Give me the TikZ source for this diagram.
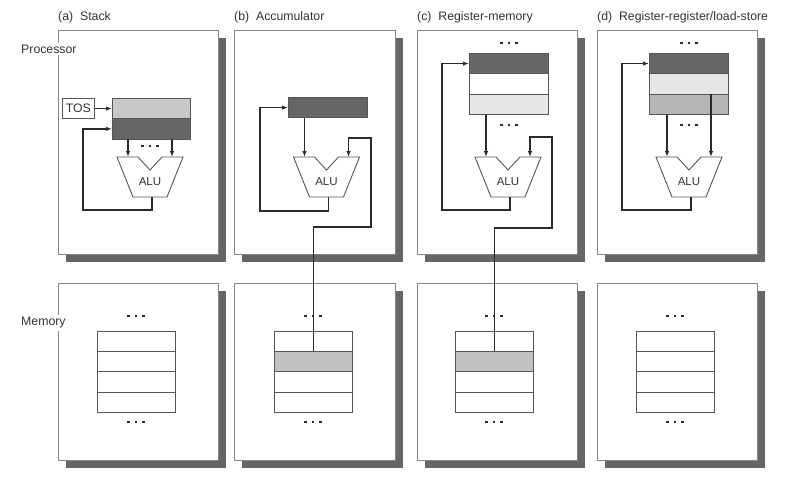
\documentclass[tikz,border=0pt]{standalone}
\usepackage{fontspec}
\setmainfont{Liberation Sans}
\usetikzlibrary{arrows.meta}
\definecolor{boxline}{HTML}{858585}
\definecolor{shadowc}{HTML}{666666}
\definecolor{regline}{HTML}{555555}
\definecolor{wirec}{HTML}{2A2A2A}
\definecolor{textc}{HTML}{333333}
\definecolor{darkreg}{HTML}{666666}
\definecolor{lightreg}{HTML}{C8C8C8}
\definecolor{paler}{HTML}{E6E6E6}
\definecolor{midreg}{HTML}{B6B6B6}
\definecolor{memshade}{HTML}{C0C0C0}
\newcommand\threedots{\rule{2.6pt}{2.6pt}\hspace{5pt}\rule{2.6pt}{2.6pt}\hspace{5pt}\rule{2.6pt}{2.6pt}}
\newcommand\aluunit[2]{%
  \draw[alushape] (#2-33,157) -- (#2-12,157) -- (#2,170) -- (#2+12,157) -- (#2+33,157) -- (#2+17,197) -- (#2-17,197) -- cycle;
  \node[alutext] (#1) at (#2,182) {ALU};
  \coordinate (#1-in1) at (#2-22,157);
  \coordinate (#1-in2) at (#2+22,157);
  \coordinate (#1-out) at (#2+2,197);
}
\begin{document}
\begin{tikzpicture}[x=1pt,y=-1pt,
  panel/.style={draw=boxline, fill=white, line width=0.8pt},
  shadow/.style={fill=shadowc, draw=none},
  regbox/.style={draw=regline, line width=0.8pt, minimum width=78pt, minimum height=20.3pt, inner sep=0pt, anchor=north west},
  memcell/.style={draw=regline, line width=0.8pt, minimum width=78pt, minimum height=20.2pt, inner sep=0pt, anchor=north west, fill=white},
  wire/.style={line width=1.8pt, draw=wirec},
  arr/.style={wire, -{Latex[length=6pt,width=4.5pt]}},
  alushape/.style={draw=regline, line width=0.9pt, fill=white, line join=miter},
  alutext/.style={font=\fontsize{11.5}{13}\selectfont, text=textc, inner sep=0pt},
  lbl/.style={font=\fontsize{12.3}{14}\selectfont, text=textc, inner sep=0pt, anchor=west},
  dotsn/.style={inner sep=0pt, text=wirec}
]
\useasboundingbox (0,0) rectangle (793,479);

% ---------- panels with shadows ----------
\foreach \l/\r in {58/218, 234/395, 417/577, 597/757}{
  \fill[shadow] (\l+8,38) rectangle (\r+8,262);
  \draw[panel] (\l,30) rectangle (\r,254);
  \fill[shadow] (\l+8,291) rectangle (\r+8,468);
  \draw[panel] (\l,283) rectangle (\r,460);
}

% ---------- titles ----------
\node[lbl] (ta) at (58,17) {(a)\ \ Stack};
\node[lbl] (tb) at (234,17) {(b)\ \ Accumulator};
\node[lbl] (tc) at (417,17) {(c)\ \ Register-memory};
\node[lbl] (td) at (597,17) {(d)\ \ Register-register/load-store};
\node[lbl, fill=white, inner ysep=2pt] (proc) at (21,49) {Processor};
\node[lbl, fill=white, inner ysep=2pt] (mem) at (21,323) {Memory};

% ---------- memories ----------
\foreach \n/\x in {a/97, b/274, c/455, d/636}{
  \node[memcell] (mem\n1) at (\x,331) {};
  \node[memcell] (mem\n2) at (\x,351.2) {};
  \node[memcell] (mem\n3) at (\x,371.4) {};
  \node[memcell] (mem\n4) at (\x,391.6) {};
  \node[dotsn] (memdt\n) at (\x+39,316) {\threedots};
  \node[dotsn] (memdb\n) at (\x+39,422) {\threedots};
}
\node[memcell, fill=memshade] at (274,351.2) {};
\node[memcell, fill=memshade] at (455,351.2) {};

% ---------- (a) Stack ----------
\node[regbox, fill=lightreg] (rega1) at (112,98) {};
\node[regbox, fill=darkreg] (rega2) at (112,118.3) {};
\node[draw=regline, line width=0.8pt, fill=white, minimum width=32pt, minimum height=20.3pt, inner sep=0pt, anchor=north west, font=\fontsize{12.3}{14}\selectfont, text=textc] (tos) at (62,98) {TOS};
\aluunit{alua}{150}
\node[dotsn] (dota) at (150,146) {\threedots};
\draw[arr] (tos) -- (rega1);
\draw[arr] (alua-in1 |- rega2.south) -- (alua-in1);
\draw[arr] (alua-in2 |- rega2.south) -- (alua-in2);
\coordinate (fba) at (83,210);
\draw[arr] (alua-out) |- (fba) |- (rega2.west);

% ---------- (b) Accumulator ----------
\node[regbox, fill=darkreg, minimum width=79pt] (acc) at (288,97) {};
\aluunit{alub}{326.5}
\draw[arr] (alub-in1 |- acc.south) -- (alub-in1);
\coordinate (fbb) at (260,211);
\draw[arr] (alub-out) |- (fbb) |- (acc.west);
\coordinate (cb1) at (371,227);
\coordinate (cb2) at (348.5,138);
\draw[arr] (memb2.north) |- (cb1) |- (cb2) -- (alub-in2);

% ---------- (c) Register-memory ----------
\node[regbox, fill=darkreg, minimum width=79pt] (regc1) at (469,53) {};
\node[regbox, fill=white, minimum width=79pt] (regc2) at (469,73.3) {};
\node[regbox, fill=paler, minimum width=79pt] (regc3) at (469,93.6) {};
\node[dotsn] (dotct) at (509,43) {\threedots};
\node[dotsn] (dotcb) at (509,125) {\threedots};
\aluunit{aluc}{508}
\draw[arr] (aluc-in1 |- regc3.south) -- (aluc-in1);
\coordinate (fbc) at (442,210);
\draw[arr] (aluc-out) |- (fbc) |- (regc1.west);
\coordinate (cc1) at (552,228);
\coordinate (cc2) at (530,137);
\draw[arr] (memc2.north) |- (cc1) |- (cc2) -- (aluc-in2);

% ---------- (d) Register-register ----------
\node[regbox, fill=darkreg, minimum width=79pt] (regd1) at (649,53) {};
\node[regbox, fill=paler, minimum width=79pt] (regd2) at (649,73.3) {};
\node[regbox, fill=midreg, minimum width=79pt] (regd3) at (649,93.6) {};
\node[dotsn] (dotdt) at (689,43) {\threedots};
\node[dotsn] (dotdb) at (689,125) {\threedots};
\aluunit{alud}{689}
\draw[arr] (alud-in1 |- regd3.south) -- (alud-in1);
\draw[arr] (alud-in2 |- regd3.north) -- (alud-in2);
\coordinate (fbd) at (622,210);
\draw[arr] (alud-out) |- (fbd) |- (regd1.west);
\end{tikzpicture}
\end{document}
